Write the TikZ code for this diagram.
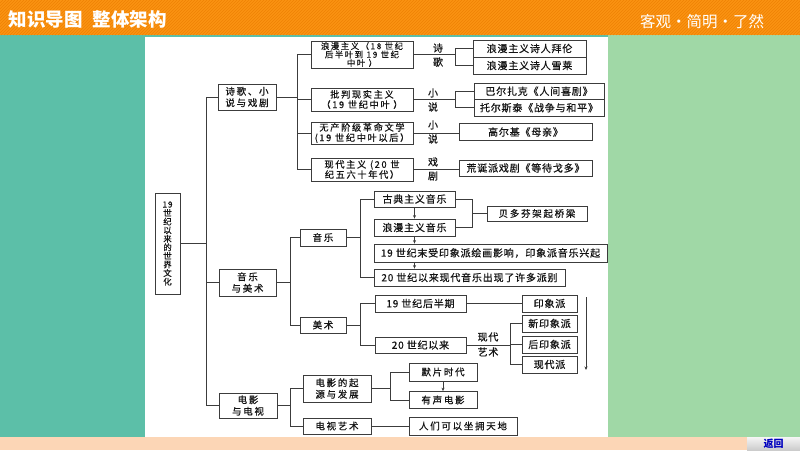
\documentclass[tikz,border=0pt]{standalone}
\usepackage{fontspec}
\setmainfont{Liberation Serif}
\newfontfamily\cjk[LetterSpace=8,FakeBold=0.6]{Noto Sans CJK SC}
\newfontfamily\cjkw[LetterSpace=18,FakeBold=0.6]{Noto Sans CJK SC}
\newfontfamily\cjkt{Noto Sans CJK SC}
\usetikzlibrary{arrows.meta}
\definecolor{hdr}{RGB}{252,150,20}
\definecolor{hdrs}{RGB}{240,132,6}
\definecolor{bgteal}{RGB}{92,191,168}
\definecolor{bggreen}{RGB}{160,216,166}
\definecolor{bgpeach}{RGB}{252,214,182}
\definecolor{ln}{RGB}{60,60,60}
\definecolor{tx}{RGB}{20,20,20}
\tikzset{
  box/.style={draw=ln, line width=0.75pt, fill=white, text=tx, align=center, inner sep=0pt,
              font=\cjk\fontsize{10}{12}\selectfont},
  wbox/.style={box, font=\cjkw\fontsize{9.5}{11.5}\selectfont},
  tbox/.style={box, font=\cjkw\fontsize{9.2}{10.2}\selectfont},
  sz/.style 2 args={minimum width=#1pt, minimum height=#2pt},
  lab/.style={text=tx, inner sep=0pt, font=\cjk\fontsize{10}{12}\selectfont},
  con/.style={draw=ln, line width=0.75pt},
  arr/.style={con, -{Stealth[length=3.5pt,width=3pt]}}
}
\begin{document}
\begin{tikzpicture}[x=1pt,y=-1pt]
\useasboundingbox (0,0) rectangle (800,450);
% backgrounds
\fill[bgteal] (0,35) rectangle (608,437);
\fill[bggreen] (608,35) rectangle (800,437);
\fill[white] (145,37) rectangle (608,437);
\fill[bgpeach] (0,437) rectangle (800,450);
% header
\fill[hdr] (0,0) rectangle (800,35);
\begin{scope}
\clip (0,0) rectangle (800,35);
\foreach \i in {0,3,...,840} \draw[hdrs, line width=0.8pt] (\i-35,35) -- (\i,0);
\end{scope}
\node[anchor=west, text=white, font=\cjkt\bfseries\fontsize{18.5}{20}\selectfont] (title) at (5,19) {知识导图\hspace{10pt}整体架构};
\node[text=white, font=\cjkt\fontsize{15.5}{17}\selectfont] (motto) at (702,22) {客观·简明·了然};
\node[top color=gray!8, bottom color=gray!40, inner sep=0pt, minimum width=53pt, minimum height=13pt,
      text=blue!75!black, font=\cjkt\bfseries\fontsize{10}{11}\selectfont] (back) at (773.5,443.5) {返回};

% root and level 1
\node[box, sz={25}{101}, font=\cjk\fontsize{8.4}{8.6}\selectfont] (root) at (167.5,243.5)
  {19\\世\\纪\\以\\来\\的\\世\\界\\文\\化};
\node[wbox, sz={58}{26}] (l1a) at (247,97) {诗歌、小\\说与戏剧};
\node[wbox, sz={57}{27}] (l1b) at (247.5,282.5) {音乐\\与美术};
\node[wbox, sz={58}{25}] (l1c) at (248,405.5) {电影\\与电视};

% literature
\node[box, sz={102}{27}, font=\cjkw\fontsize{8.4}{8.4}\selectfont] (a1) at (362,54.5) {浪漫主义（18 世纪\\后半叶到 19 世纪\\中叶 ）};
\node[tbox, sz={102}{23}] (a2) at (362,99.5) {批判现实主义\\（19 世纪中叶 ）};
\node[tbox, sz={102}{22}] (a3) at (362,133) {无产阶级革命文学\\(19 世纪中叶以后）};
\node[tbox, sz={102}{23}] (a4) at (362,169.5) {现代主义 (20 世\\纪五六十年代）};

\node[box, sz={113}{17}] (b1) at (529.5,48.5) {浪漫主义诗人拜伦};
\node[box, sz={113}{17}] (b2) at (529.5,65.5) {浪漫主义诗人雪莱};
\node[box, sz={130}{16.5}] (b3) at (539,91.25) {巴尔扎克《人间喜剧》};
\node[box, sz={130}{16.5}] (b4) at (539,107.75) {托尔斯泰《战争与和平》};
\node[box, sz={133}{17}] (b5) at (525.5,132) {高尔基《母亲》};
\node[box, sz={133}{16}] (b6) at (525.5,168) {荒诞派戏剧《等待戈多》};

\node[lab] (s1) at (438,48) {诗};
\node[lab] (s2) at (438,62) {歌};
\node[lab] (x1) at (433,93) {小};
\node[lab] (x2) at (433,107) {说};
\node[lab] (x3) at (433,125) {小};
\node[lab] (x4) at (433,139) {说};
\node[lab] (x5) at (433,162) {戏};
\node[lab] (x6) at (433,176) {剧};

% music
\node[wbox, sz={46}{17}] (m) at (323,237.5) {音乐};
\node[wbox, sz={46}{16}] (art) at (323,325) {美术};
\node[box, sz={81}{16}] (c1) at (414.5,199) {古典主义音乐};
\node[box, sz={81}{17}] (c2) at (414.5,227.5) {浪漫主义音乐};
\node[box, sz={233}{18}] (c3) at (490.5,253) {19 世纪末受印象派绘画影响，印象派音乐兴起};
\node[box, sz={191}{17}] (c4) at (469.5,277.5) {20 世纪以来现代音乐出现了许多派别};
\node[wbox, sz={100}{15}] (c5) at (537,213.5) {贝多芬架起桥梁};

% art
\node[box, sz={91}{17}] (d1) at (420.5,303.5) {19 世纪后半期};
\node[box, sz={91}{16}] (d2) at (420.5,345) {20 世纪以来};
\node[box, sz={55}{17}] (e1) at (549.5,303.5) {印象派};
\node[box, sz={55}{17}] (e2) at (549.5,323.5) {新印象派};
\node[box, sz={55}{17}] (e3) at (549.5,344.5) {后印象派};
\node[box, sz={55}{17}] (e4) at (549.5,364.5) {现代派};
\node[lab] (y1) at (488,337) {现代};
\node[lab] (y2) at (488,352) {艺术};

% film
\node[wbox, sz={68}{27}] (f1) at (337,388.5) {电影的起\\源与发展};
\node[wbox, sz={68}{16}] (f2) at (337,426) {电视艺术};
\node[wbox, sz={68}{18}] (g1) at (443,372) {默片时代};
\node[wbox, sz={68}{17}] (g2) at (443,400) {有声电影};
\node[wbox, sz={108}{18}] (g3) at (463,426) {人们可以坐拥天地};

% connectors
\coordinate (t0) at (206,0);
\draw[con] (root.east) -- (root.east -| t0);
\draw[con] (l1a.west) -- (l1a.west -| t0) -- (l1c.west -| t0) -- (l1c.west);
\draw[con] (l1b.west) -- (l1b.west -| t0);

\coordinate (t1) at (297,0);
\draw[con] (l1a.east) -- (l1a.east -| t1);
\draw[con] (a1.west) -- (a1.west -| t1) -- (a4.west -| t1) -- (a4.west);
\draw[con] (a2.west) -- (a2.west -| t1);
\draw[con] (a3.west) -- (a3.west -| t1);

\coordinate (t2) at (455,0);
\draw[con] (a1.east) -- (a1.east -| t2);
\draw[con] (b1.west) -- (b1.west -| t2) -- (b2.west -| t2) -- (b2.west);
\draw[con] (a2.east) -- (a2.east -| t2);
\draw[con] (b3.west) -- (b3.west -| t2) -- (b4.west -| t2) -- (b4.west);
\draw[con] (a3.east) -- (a3.east -| b5.west);
\draw[con] (a4.east) -- (a4.east -| b6.west);

\coordinate (t3) at (290,0);
\draw[con] (l1b.east) -- (l1b.east -| t3);
\draw[con] (m.west) -- (m.west -| t3) -- (art.west -| t3) -- (art.west);
\coordinate (t4) at (360,0);
\draw[con] (m.east) -- (m.east -| t4);
\draw[con] (c1.west) -- (c1.west -| t4) -- (c4.west -| t4) -- (c4.west);
\draw[arr] (c1.south) -- (c2.north);
\draw[arr] (c2.south) -- (c2.south |- c3.north);
\draw[arr] (c2.south |- c3.south) -- (c2.south |- c4.north);
\coordinate (t5) at (472,0);
\draw[con] (c1.east) -- (c1.east -| t5) -- (c2.east -| t5) -- (c2.east);
\draw[con] (c5.west -| t5) -- (c5.west);

\draw[con] (art.east) -- (art.east -| t4);
\draw[con] (d1.west) -- (d1.west -| t4) -- (d2.west -| t4) -- (d2.west);
\draw[con] (d1.east) -- (e1.west);
\coordinate (t6) at (510,0);
\draw[con] (d2.east) -- (d2.east -| t6);
\draw[con] (e2.west) -- (e2.west -| t6) -- (e4.west -| t6) -- (e4.west);
\draw[con] (e3.west) -- (e3.west -| t6);
\coordinate (va) at (586,297);
\coordinate (vb) at (586,370);
\draw[arr] (va) -- (vb);

\draw[con] (l1c.east) -- (l1c.east -| t3);
\draw[con] (f1.west) -- (f1.west -| t3) -- (f2.west -| t3) -- (f2.west);
\coordinate (t7) at (390,0);
\draw[con] (f1.east) -- (f1.east -| t7);
\draw[con] (g1.west) -- (g1.west -| t7) -- (g2.west -| t7) -- (g2.west);
\draw[arr] (g1.south) -- (g2.north);
\draw[con] (f2.east) -- (g3.west);
\end{tikzpicture}
\end{document}
